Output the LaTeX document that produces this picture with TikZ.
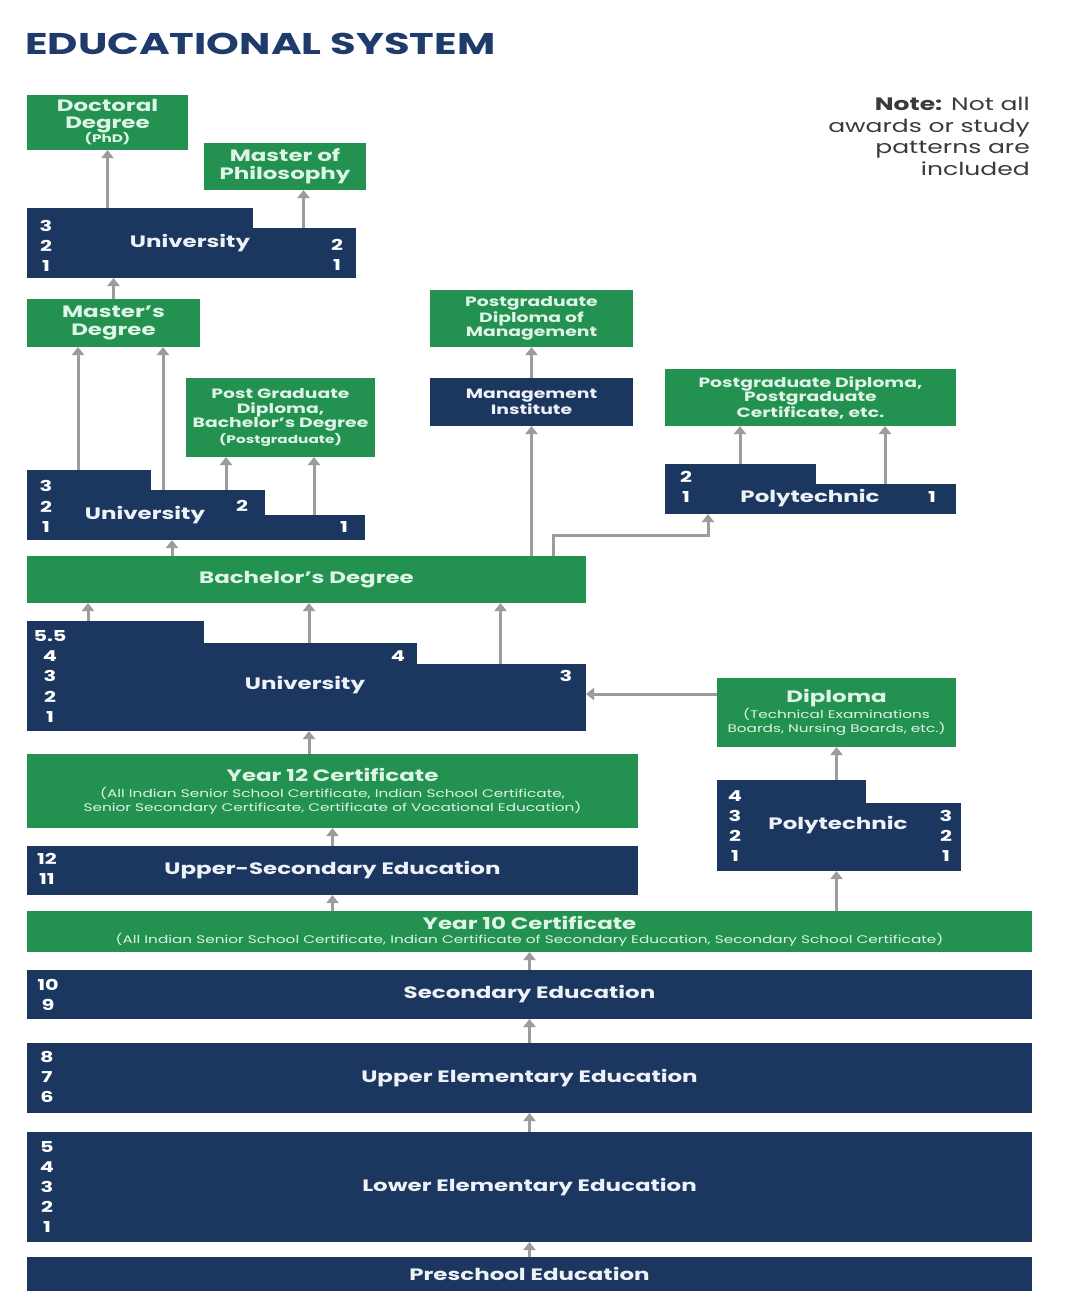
\documentclass[tikz,border=0pt]{standalone}
\usepackage{fontspec}
\setmainfont{Poppins}[FakeStretch=1.39]
\usetikzlibrary{arrows.meta}

\definecolor{edugreen}{HTML}{23914F}
\definecolor{edunavy}{HTML}{1B3760}
\definecolor{mint}{HTML}{DDF4E6}
\definecolor{navytext}{HTML}{EEF2F7}
\definecolor{arrowgray}{HTML}{9C9C9C}
\definecolor{titleblue}{HTML}{1F3B6C}
\definecolor{notegray}{HTML}{3A3A3A}

\newcommand{\titletxt}{\fontsize{30}{34}\selectfont\bfseries}
\newcommand{\notetxt}{\fontsize{18}{21.5}\selectfont}
\newcommand{\bigtxt}{\fontsize{16.5}{18}\selectfont\bfseries}
\newcommand{\midtxt}{\fontsize{13.5}{14.5}\selectfont\bfseries}
\newcommand{\subtxt}{\fontsize{11}{13.5}\selectfont}
\newcommand{\numtxt}{\fontsize{15}{20.2}\selectfont\bfseries}

\begin{document}
\begin{tikzpicture}[x=1pt,y=-1pt,
    gbox/.style={fill=edugreen,text=mint,inner sep=0pt,outer sep=0pt,align=center,font=\bigtxt},
    nbox/.style={fill=edunavy,text=navytext,inner sep=0pt,outer sep=0pt,align=center,font=\bigtxt},
    stair/.style={fill=edunavy,inner sep=0pt,outer sep=0pt},
    lbl/.style={text=navytext,font=\bigtxt,inner sep=0pt},
    yrs/.style={text=white,font=\numtxt,align=center,inner sep=0pt},
    arr/.style={draw=arrowgray,line width=3pt,-{Triangle[width=12pt,length=8pt]}}]

    \useasboundingbox[fill=white] (0,0) rectangle (1073,1294);

    % title and note
    \node[anchor=west,inner sep=0pt,font=\titletxt,text=titleblue] (title) at (25,44) {EDUCATIONAL SYSTEM};
    \node[anchor=north east,inner sep=0pt,align=right,font=\notetxt,text=notegray] (note) at (1030,97)
        {\textbf{Note:} Not all\\awards or study\\patterns are\\included};

    %%%%%%%%%%%%%%%%%%%%%%%%%%%%%%%%%%%%%%%%%%%%%%%%%%%%%%

    % doctoral degree
    \node[gbox,minimum width=161,minimum height=55] (doc) at (107.5,122.5)
        {Doctoral\\[-1pt]Degree\\[-4pt]{\subtxt (PhD)}};

    % master of philosophy
    \node[gbox,minimum width=162,minimum height=47] (mphil) at (285,166.5) {Master of\\Philosophy};

    % university (doctoral level)
    \node[stair,minimum width=226,minimum height=70] (uniT1) at (140,243) {};
    \node[stair,minimum width=105,minimum height=50] (uniT2) at (303.5,253) {};
    \node[lbl] (uniT) at (190,243) {University};
    \node[yrs] at (46,246) {3\\2\\1};
    \node[yrs] at (337,254.5) {2\\1};

    \draw[arr] (doc.south |- uniT1.north) -- (doc.south);
    \draw[arr] (uniT2.north) -- (uniT2.north |- mphil.south);

    %%%%%%%%%%%%%%%%%%%%%%%%%%%%%%%%%%%%%%%%%%%%%%%%%%%%%%

    % master's degree
    \node[gbox,minimum width=173,minimum height=48] (mast) at (113.5,323) {Master's\\Degree};
    \draw[arr] (mast.north) -- (mast.north |- uniT1.south);

    % post graduate diploma
    \node[gbox,font=\midtxt,minimum width=189,minimum height=79] (pgd) at (280.5,417.5)
        {Post Graduate\\Diploma,\\Bachelor's Degree\\[1pt]{\subtxt (Postgraduate)}};

    % university (master level)
    \node[stair,minimum width=124,minimum height=70] (uniM1) at (88.5,505) {};
    \node[stair,minimum width=116,minimum height=50] (uniM2) at (206.5,515) {};
    \node[stair,minimum width=102,minimum height=25] (uniM3) at (314,527.5) {};
    \node[lbl] (uniM) at (145,515) {University};
    \node[yrs] at (46,506.5) {3\\2\\1};
    \node[yrs] at (242,506) {2};
    \node[yrs] at (344,527) {1};

    \coordinate (mA) at ([xshift=-10.5]uniM1.north);
    \coordinate (mB) at ([xshift=-43.5]uniM2.north);
    \coordinate (mC) at ([xshift=19.5]uniM2.north);
    \draw[arr] (mA) -- (mA |- mast.south);
    \draw[arr] (mB) -- (mB |- mast.south);
    \draw[arr] (mC) -- (mC |- pgd.south);
    \draw[arr] (uniM3.north) -- (uniM3.north |- pgd.south);

    %%%%%%%%%%%%%%%%%%%%%%%%%%%%%%%%%%%%%%%%%%%%%%%%%%%%%%

    % management
    \node[gbox,font=\midtxt,minimum width=203,minimum height=57] (pgdm) at (531.5,318.5)
        {Postgraduate\\Diploma of\\Management};
    \node[nbox,font=\midtxt,minimum width=203,minimum height=48] (mgmt) at (531.5,402)
        {Management\\Institute};
    \draw[arr] (mgmt.north) -- (pgdm.south);

    % polytechnic (postgraduate)
    \node[gbox,font=\midtxt,minimum width=291,minimum height=57] (pgc) at (810.5,397.5)
        {Postgraduate Diploma,\\Postgraduate\\Certificate, etc.};
    \node[stair,minimum width=151,minimum height=50] (polyU1) at (740,489) {};
    \node[stair,minimum width=142,minimum height=30] (polyU2) at (885,499) {};
    \node[lbl] (polyU) at (810,498) {Polytechnic};
    \node[yrs] at (686,487) {2\\1};
    \node[yrs] at (932,497) {1};

    \draw[arr] (polyU1.north) -- (polyU1.north |- pgc.south);
    \draw[arr] (polyU2.north) -- (polyU2.north |- pgc.south);

    %%%%%%%%%%%%%%%%%%%%%%%%%%%%%%%%%%%%%%%%%%%%%%%%%%%%%%

    % bachelor's degree
    \node[gbox,minimum width=559,minimum height=47] (bach) at (306.5,579.5) {Bachelor's Degree};

    \coordinate (bA) at ([xshift=-134.5]bach.north);
    \coordinate (bB) at ([xshift=246.5]bach.north);
    \coordinate (pU) at ([xshift=-32]polyU1.south);
    \draw[arr] (bA) -- (bA |- uniM1.south);
    \draw[arr] (mgmt.south |- bach.north) -- (mgmt.south);
    \draw[arr] (bB) -- ++(0,-21) -| (pU);

    % university (bachelor level)
    \node[stair,minimum width=177,minimum height=110] (uniL1) at (115,676) {};
    \node[stair,minimum width=215,minimum height=88] (uniL2) at (309,687) {};
    \node[stair,minimum width=171,minimum height=67] (uniL3) at (500.5,697.5) {};
    \node[lbl] (uniL) at (305,685) {University};
    \node[yrs] at (50,676.5) {5.5\\4\\3\\2\\1};
    \node[yrs] at (398,656) {4};
    \node[yrs] at (566,676) {3};

    \coordinate (lA) at ([xshift=-27]uniL1.north);
    \draw[arr] (lA) -- (lA |- bach.south);
    \draw[arr] (uniL2.north) -- (uniL2.north |- bach.south);
    \draw[arr] (uniL3.north) -- (uniL3.north |- bach.south);

    %%%%%%%%%%%%%%%%%%%%%%%%%%%%%%%%%%%%%%%%%%%%%%%%%%%%%%

    % diploma
    \node[gbox,minimum width=239,minimum height=69] (dipl) at (836.5,712.5)
        {Diploma\\[-2pt]{\subtxt\mdseries (Technical Examinations}\\[-4pt]{\subtxt\mdseries Boards, Nursing Boards, etc.)}};
    \coordinate (dA) at ([yshift=18.5]dipl.west);
    \draw[arr] (dA) -- (dA -| uniL3.east);

    % polytechnic (diploma)
    \node[stair,minimum width=149,minimum height=91] (polyL1) at (791,825.5) {};
    \node[stair,minimum width=97,minimum height=68] (polyL2) at (912.5,837) {};
    \node[lbl] (polyL) at (838,825) {Polytechnic};
    \node[yrs] at (735,826) {4\\3\\2\\1};
    \node[yrs] at (946,836) {3\\2\\1};
    \draw[arr] (dipl.south |- polyL1.north) -- (dipl.south);

    %%%%%%%%%%%%%%%%%%%%%%%%%%%%%%%%%%%%%%%%%%%%%%%%%%%%%%

    % year 12
    \node[gbox,minimum width=611,minimum height=74] (y12) at (332.5,791)
        {Year 12 Certificate\\[-2pt]{\subtxt\mdseries (All Indian Senior School Certificate, Indian School Certificate,}\\[-4pt]{\subtxt\mdseries Senior Secondary Certificate, Certificate of Vocational Education)}};
    \draw[arr] (uniL2.south |- y12.north) -- (uniL2.south);

    % upper-secondary
    \node[nbox,minimum width=611,minimum height=49] (usec) at (332.5,870.5) {Upper-Secondary Education};
    \node[yrs] at (47,869) {12\\11};
    \draw[arr] (usec.north) -- (usec.north |- y12.south);

    % year 10
    \node[gbox,minimum width=1005,minimum height=41] (y10) at (529.5,931.5)
        {Year 10 Certificate\\[-4pt]{\subtxt\mdseries (All Indian Senior School Certificate, Indian Certificate of Secondary Education, Secondary School Certificate)}};
    \draw[arr] (usec.south |- y10.north) -- (usec.south);
    \draw[arr] (dipl.south |- y10.north) -- (dipl.south |- polyL1.south);

    %%%%%%%%%%%%%%%%%%%%%%%%%%%%%%%%%%%%%%%%%%%%%%%%%%%%%%

    % school years
    \node[nbox,minimum width=1005,minimum height=49] (sec) at (529.5,994.5) {Secondary Education};
    \node[yrs] at (48,995) {10\\9};
    \node[nbox,minimum width=1005,minimum height=70] (uel) at (529.5,1078) {Upper Elementary Education};
    \node[yrs] at (47,1077) {8\\7\\6};
    \node[nbox,minimum width=1005,minimum height=110] (lel) at (529.5,1187) {Lower Elementary Education};
    \node[yrs] at (47,1187) {5\\4\\3\\2\\1};
    \node[nbox,minimum width=1005,minimum height=34] (pre) at (529.5,1274) {Preschool Education};

    \draw[arr] (sec.north) -- (y10.south);
    \draw[arr] (uel.north) -- (sec.south);
    \draw[arr] (lel.north) -- (uel.south);
    \draw[arr] (pre.north) -- (lel.south);

\end{tikzpicture}
\end{document}
